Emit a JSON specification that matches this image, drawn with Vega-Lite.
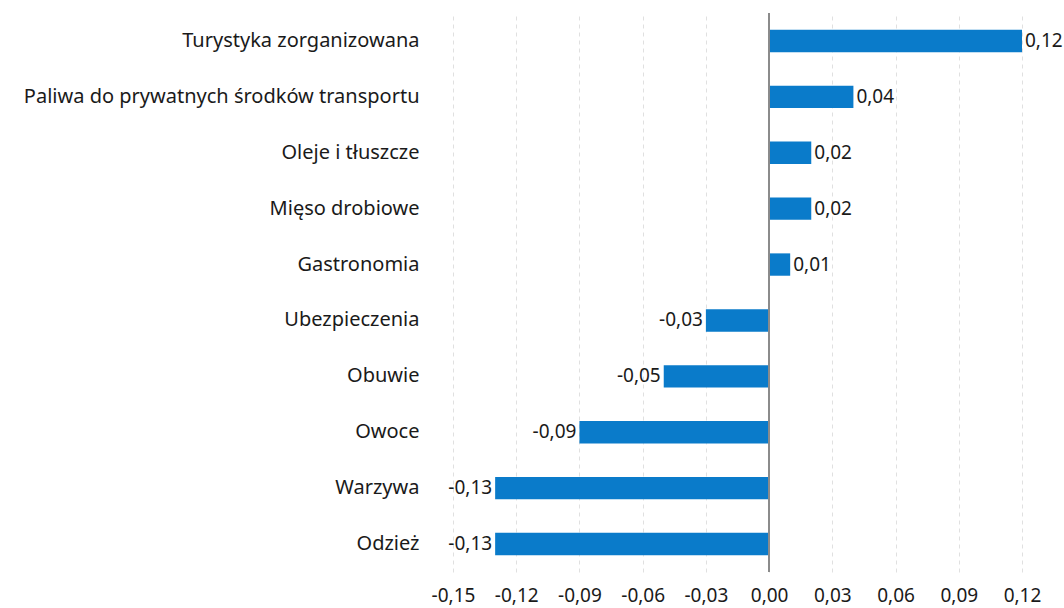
{
  "$schema": "https://vega.github.io/schema/vega-lite/v6.json",
  "autosize": "none",
  "width": 569,
  "height": 559,
  "padding": {"left": 453, "top": 13, "right": 42, "bottom": 36},
  "background": "white",
  "config": {
    "locale": {"number": {"decimal": ",", "thousands": " ", "grouping": [3], "currency": ["", " zł"], "minus": "-"}},
    "font": "Noto Sans",
    "view": {"stroke": null}
  },
  "data": {"values": [
    {"kategoria": "Turystyka zorganizowana", "wartosc": 0.12},
    {"kategoria": "Paliwa do prywatnych środków transportu", "wartosc": 0.04},
    {"kategoria": "Oleje i tłuszcze", "wartosc": 0.02},
    {"kategoria": "Mięso drobiowe", "wartosc": 0.02},
    {"kategoria": "Gastronomia", "wartosc": 0.01},
    {"kategoria": "Ubezpieczenia", "wartosc": -0.03},
    {"kategoria": "Obuwie", "wartosc": -0.05},
    {"kategoria": "Owoce", "wartosc": -0.09},
    {"kategoria": "Warzywa", "wartosc": -0.13},
    {"kategoria": "Odzież", "wartosc": -0.13}
  ]},
  "encoding": {
    "y": {"field": "kategoria", "type": "nominal", "sort": null,
      "scale": {"paddingInner": 0.6, "paddingOuter": 0.3},
      "axis": {"title": null, "domain": false, "ticks": false, "labelFontSize": 20, "labelColor": "#1a1a1a", "labelPadding": 34, "labelLimit": 500, "grid": false}}
  },
  "layer": [
    {
      "mark": {"type": "bar", "color": "#0A7BCA"},
      "encoding": {
        "x": {"field": "wartosc", "type": "quantitative",
          "scale": {"domain": [-0.15, 0.12], "nice": false, "zero": false},
          "axis": {"title": null, "values": [-0.15, -0.12, -0.09, -0.06, -0.03, 0, 0.03, 0.06, 0.09, 0.12], "format": ".2f", "domain": false, "ticks": false, "labelFontSize": 19, "labelColor": "#1a1a1a", "labelPadding": 14, "grid": true, "gridDash": [4, 4], "gridColor": "#e0e0e0", "labelFlush": false}}
      }
    },
    {
      "mark": {"type": "rule", "color": "#8c8c8c", "strokeWidth": 1},
      "encoding": {"x": {"datum": 0, "type": "quantitative"}, "y": {"value": 0}, "y2": {"value": 559}}
    },
    {
      "transform": [{"filter": "datum.wartosc >= 0"}],
      "mark": {"type": "text", "align": "left", "dx": 3, "fontSize": 19, "color": "#1a1a1a"},
      "encoding": {
        "x": {"field": "wartosc", "type": "quantitative"},
        "text": {"field": "wartosc", "type": "quantitative", "format": ".2f"}
      }
    },
    {
      "transform": [{"filter": "datum.wartosc < 0"}],
      "mark": {"type": "text", "align": "right", "dx": -3, "fontSize": 19, "color": "#1a1a1a"},
      "encoding": {
        "x": {"field": "wartosc", "type": "quantitative"},
        "text": {"field": "wartosc", "type": "quantitative", "format": ".2f"}
      }
    }
  ]
}
